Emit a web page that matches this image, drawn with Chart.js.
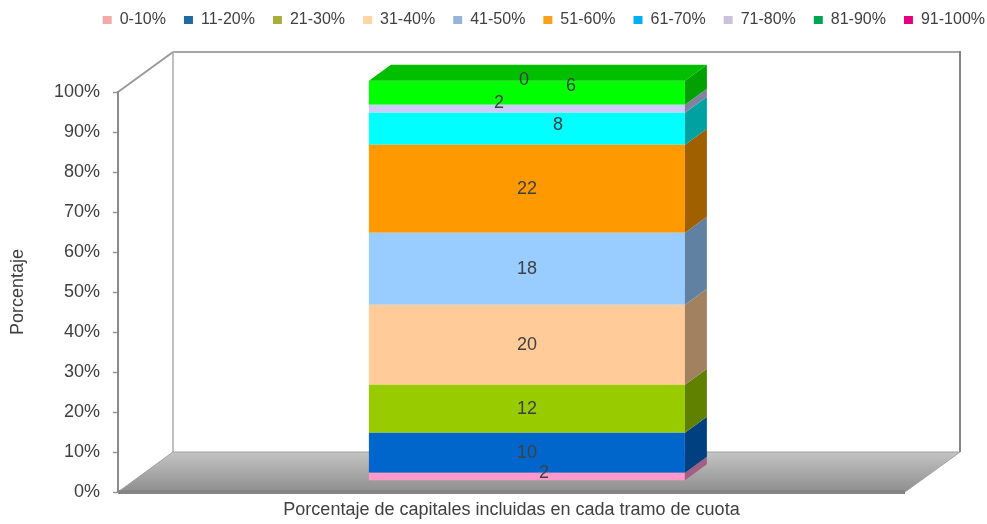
<!DOCTYPE html>
<html>
<head>
<meta charset="utf-8">
<script src="https://cdn.jsdelivr.net/npm/chart.js@4.4.0/dist/chart.umd.min.js"></script>
<style>
html,body{margin:0;padding:0;background:#ffffff;}
#wrap{width:987px;height:524px;position:relative;}
</style>
</head>
<body>
<div id="wrap"><canvas id="c" width="987" height="524"></canvas></div>
<script>
// ---- data ----
const categories = [''];
const seriesNames = ['0-10%','11-20%','21-30%','31-40%','41-50%','51-60%','61-70%','71-80%','81-90%','91-100%'];
const seriesValues = [2, 10, 12, 20, 18, 22, 8, 2, 6, 0];
const yTickLabels = ['0%','10%','20%','30%','40%','50%','60%','70%','80%','90%','100%'];
const xTitle = 'Porcentaje de capitales incluidas en cada tramo de cuota';
const yTitle = 'Porcentaje';

// ---- styles ----
const barColors = ['#FF99CC','#0066CC','#99CC00','#FFCC99','#99CCFF','#FF9900','#00FFFF','#CCCCFF','#00FF00','#CC00CC'];
const legendColors = ['#F4A9A8','#1F6A9E','#A9AE3A','#FCD5A5','#95B3D7','#F9A11F','#00B0F0','#CCC1DA','#00A651','#E6007E'];
const labelNudge = [[17,-4],[0,0],[0,0],[0,0],[0,0],[0,0],[31,-4],[-28,-6],[44,-7],[-3,-1]];
const FONT = "'Liberation Sans', Arial, sans-serif";
const TEXT = '#404040';
const WALL = {dx: 55, dy: -40};        // depth of the 3D box
const BARPOS = {front: 0.28, depth: 0.4}; // bar placement as fraction of box depth

function shade(hex, f) {
  const n = parseInt(hex.slice(1), 16);
  const r = Math.round(((n >> 16) & 255) * f), g = Math.round(((n >> 8) & 255) * f), b = Math.round((n & 255) * f);
  return 'rgb(' + r + ',' + g + ',' + b + ')';
}

const frame3d = {
  id: 'frame3d',
  beforeLayout(chart) {
    const lg = chart.legend;
    if (lg && !lg._patched) {
      const orig = lg.fit;
      lg.fit = function () { orig.call(this); this.height = 98; };
      lg._patched = true;
    }
  },
  beforeDraw(chart) {
    const {ctx, chartArea: a} = chart;
    const dx = WALL.dx, dy = WALL.dy;
    const bl = a.left + dx, br = a.right + dx, bt = a.top + dy, bb = a.bottom + dy;
    ctx.save();
    // back wall
    ctx.fillStyle = '#ffffff';
    ctx.fillRect(bl, bt, br - bl, bb - bt);
    ctx.lineWidth = 2;
    ctx.strokeStyle = '#A6A6A6';
    ctx.beginPath(); ctx.moveTo(bl, bt); ctx.lineTo(br, bt); ctx.stroke();
    ctx.strokeStyle = '#C0C0C0';
    ctx.beginPath(); ctx.moveTo(bl, bt); ctx.lineTo(bl, bb); ctx.stroke();
    ctx.strokeStyle = '#858585';
    ctx.beginPath(); ctx.moveTo(br, bt - 1); ctx.lineTo(br, bb); ctx.stroke();
    // side wall top edge
    ctx.strokeStyle = '#9A9A9A';
    ctx.beginPath(); ctx.moveTo(a.left, a.top); ctx.lineTo(bl, bt); ctx.stroke();
    // floor top
    const g = ctx.createLinearGradient(0, bb, 0, a.bottom);
    g.addColorStop(0, '#C4C4C4');
    g.addColorStop(1, '#8E8E8E');
    ctx.fillStyle = g;
    ctx.beginPath();
    ctx.moveTo(a.left, a.bottom);
    ctx.lineTo(a.right, a.bottom);
    ctx.lineTo(br, bb);
    ctx.lineTo(bl, bb);
    ctx.closePath();
    ctx.fill();
    ctx.lineWidth = 1;
    ctx.strokeStyle = '#A0A0A0';
    ctx.stroke();
    // floor front edge
    ctx.fillStyle = '#858585';
    ctx.fillRect(a.left, a.bottom - 2, a.right - a.left, 4);
    ctx.restore();
  },
  beforeDatasetsDraw(chart) {
    const ctx = chart.ctx;
    ctx.save();
    ctx.translate(WALL.dx * BARPOS.front, WALL.dy * BARPOS.front);
  },
  afterDatasetsDraw(chart) {
    const ctx = chart.ctx;
    const ddx = WALL.dx * BARPOS.depth, ddy = WALL.dy * BARPOS.depth;
    let topEl = null, topIdx = -1;
    chart.data.datasets.forEach((ds, i) => {
      const el = chart.getDatasetMeta(i).data[0];
      if (!el) return;
      const right = el.x + el.width / 2;
      const top = Math.min(el.y, el.base), bot = Math.max(el.y, el.base);
      if (bot - top > 0.5) {
        ctx.fillStyle = shade(barColors[i], 0.63);
        ctx.beginPath();
        ctx.moveTo(right, top);
        ctx.lineTo(right + ddx, top + ddy);
        ctx.lineTo(right + ddx, bot + ddy);
        ctx.lineTo(right, bot);
        ctx.closePath();
        ctx.fill();
        topEl = el; topIdx = i;
      }
    });
    if (topEl) {
      const l = topEl.x - topEl.width / 2, r = topEl.x + topEl.width / 2, t = Math.min(topEl.y, topEl.base);
      ctx.fillStyle = shade(barColors[topIdx], 0.75);
      ctx.beginPath();
      ctx.moveTo(l, t);
      ctx.lineTo(l + ddx, t + ddy);
      ctx.lineTo(r + ddx, t + ddy);
      ctx.lineTo(r, t);
      ctx.closePath();
      ctx.fill();
    }
    // value labels
    ctx.font = '18px ' + FONT;
    ctx.fillStyle = TEXT;
    ctx.textAlign = 'center';
    ctx.textBaseline = 'middle';
    chart.data.datasets.forEach((ds, i) => {
      const el = chart.getDatasetMeta(i).data[0];
      if (!el) return;
      const n = labelNudge[i] || [0, 0];
      ctx.fillText(String(ds.data[0]), el.x + n[0], (el.y + el.base) / 2 + n[1]);
    });
    ctx.restore();
  }
};

const datasets = seriesNames.map((name, i) => ({
  label: name,
  data: [seriesValues[i]],
  backgroundColor: barColors[i],
  borderWidth: 0,
  stack: 's',
  clip: false,
  barPercentage: 0.4015,
  categoryPercentage: 1
}));

new Chart(document.getElementById('c'), {
  type: 'bar',
  data: {labels: categories, datasets: datasets},
  plugins: [frame3d],
  options: {
    responsive: false,
    animation: false,
    devicePixelRatio: 1,
    layout: {padding: {top: -6, left: 0, right: -16, bottom: 0}},
    plugins: {
      tooltip: {enabled: false},
      legend: {
        position: 'top',
        align: 'end',
        labels: {
          font: {family: FONT, size: 16},
          color: TEXT,
          boxWidth: 9,
          boxHeight: 8,
          padding: 18,
          generateLabels(chart) {
            const items = Chart.defaults.plugins.legend.labels.generateLabels(chart);
            items.forEach((it, i) => {
              it.fillStyle = legendColors[i];
              it.strokeStyle = legendColors[i];
              it.lineWidth = 0;
            });
            return items;
          }
        }
      }
    },
    scales: {
      x: {
        stacked: true,
        grid: {display: false},
        border: {display: false},
        ticks: {display: false},
        title: {display: true, text: xTitle, color: TEXT, font: {family: FONT, size: 18}, padding: {top: 0, bottom: 3}},
        afterFit(scale) { scale.height = 32; }
      },
      y: {
        stacked: true,
        min: 0,
        max: 100,
        ticks: {
          stepSize: 10,
          color: TEXT,
          font: {family: FONT, size: 18},
          padding: 13,
          callback: (v, i) => yTickLabels[i]
        },
        grid: {drawOnChartArea: false, drawTicks: true, tickLength: 5, color: '#A8908F', tickColor: '#A8908F', tickWidth: 1.5},
        border: {display: true, color: '#8C8C8C', width: 2},
        title: {display: true, text: yTitle, color: TEXT, font: {family: FONT, size: 18}, padding: {top: 7, bottom: 0}},
        afterFit(scale) { scale.width = 118; }
      },
      yr: {
        type: 'linear',
        position: 'right',
        display: true,
        grid: {display: false},
        border: {display: false},
        ticks: {display: false},
        afterFit(scale) { scale.width = 98; }
      }
    }
  }
});
</script>
</body>
</html>
